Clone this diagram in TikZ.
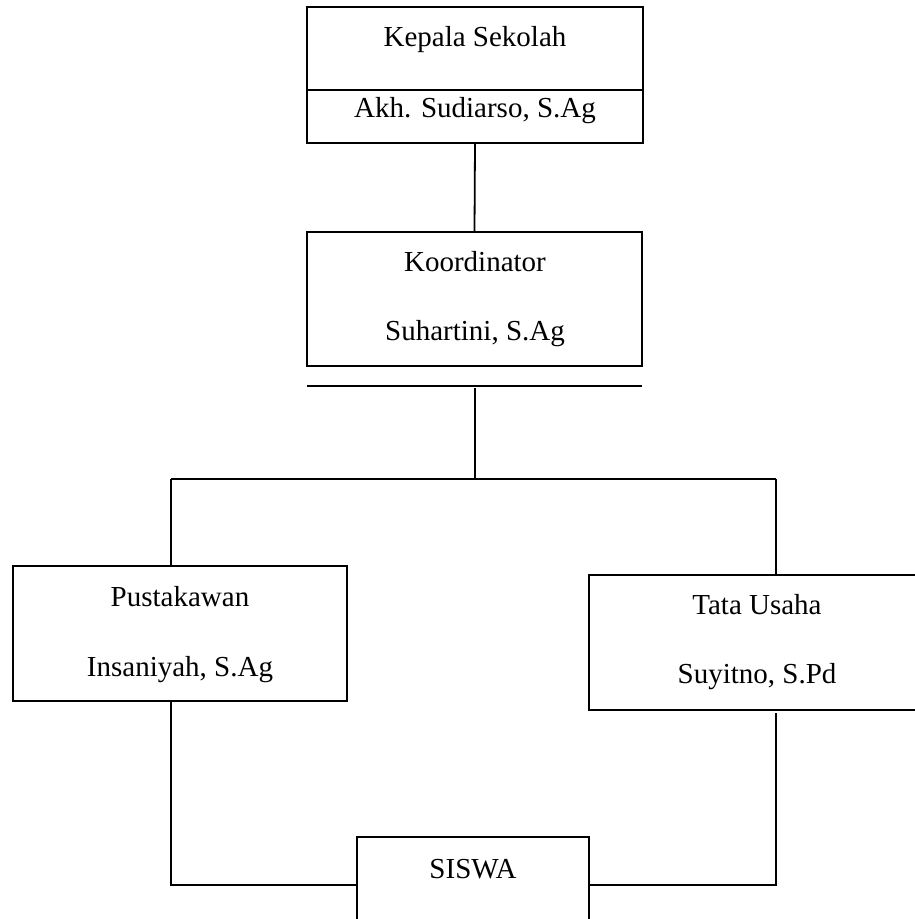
\documentclass[tikz,border=0pt]{standalone}
\usepackage{fontspec}
\setmainfont{Liberation Serif}
\begin{document}
\begin{tikzpicture}[x=1pt,y=-1pt,
  box/.style={draw,line width=1.8pt,inner sep=0pt,minimum height=#1},
  box/.default=135pt,
  lbl/.style={anchor=base,inner sep=0pt,font=\fontsize{29}{34}\selectfont},
  conn/.style={line width=1.8pt}]
\path[use as bounding box,clip] (0,0) rectangle (915,919);
% boxes
\node[box=136pt,minimum width=336pt] (kepala) at (475,75) {};
\node[box=134pt,minimum width=335pt] (koord) at (474.5,299) {};
\node[box,minimum width=334pt] (pust) at (180,633.5) {};
\node[box,minimum width=336pt] (tata) at (757,642.5) {};
\node[box=100pt,minimum width=232pt] (siswa) at (473,887) {};
% texts
\node[lbl] (t1) at (475,46) {Kepala Sekolah};
\node[lbl] (t2) at (475,117) {Akh. Sudiarso, S.Ag};
\node[lbl] (t3) at (475,271) {Koordinator};
\node[lbl] (t4) at (475,340) {Suhartini, S.Ag};
\node[lbl] (t5) at (180,606) {Pustakawan};
\node[lbl] (t6) at (180,676) {Insaniyah, S.Ag};
\node[lbl] (t7) at (757,614) {Tata Usaha};
\node[lbl] (t8) at (757,683) {Suyitno, S.Pd};
\node[lbl] (t9) at (473,878) {SISWA};
% divider in top box
\draw[conn] (kepala.west |- 0,90) -- (kepala.east |- 0,90);
% coordinates
\coordinate (barL) at (307,386);
\coordinate (barR) at (642,386);
\coordinate (barM) at (475,388);
\coordinate (jM) at (475,479);
\coordinate (jL) at (171,479);
\coordinate (jR) at (776,479);
\coordinate (bL) at (171,885);
\coordinate (bR) at (776,885);
% connectors
\draw[conn] (kepala.south) -- (koord.north);
\draw[conn] (barL) -- (barR);
\draw[conn] (barM) -- (jM);
\draw[conn] (jL) -- (jR);
\draw[conn] (jL) -- (jL |- pust.north);
\draw[conn] (jR) -- (jR |- tata.north);
\draw[conn] (bL |- pust.south) -- (bL) -- (siswa.west |- bL);
\draw[conn] (bR |- 0,713) -- (bR) -- (siswa.east |- bR);
\end{tikzpicture}
\end{document}
